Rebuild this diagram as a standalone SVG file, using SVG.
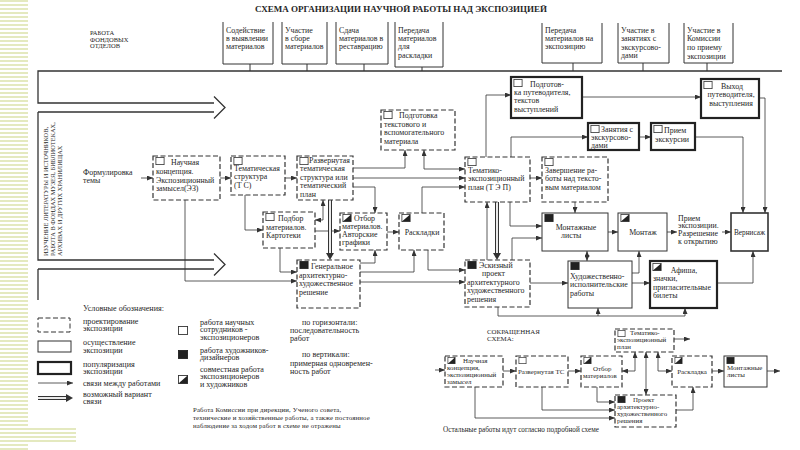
<svg xmlns="http://www.w3.org/2000/svg" width="800" height="450" viewBox="0 0 800 450">
<defs>
<style>
text{font-family:"Liberation Serif","DejaVu Serif",serif;font-size:7.9px;fill:#262626}
.s{font-size:6.9px}
.l{font-size:8.1px}
.fn{font-size:6.8px;letter-spacing:0.15px}
.c{text-anchor:middle}
.dash{fill:#fff;stroke:#333;stroke-width:1.2;stroke-dasharray:5 2.5}
.sol{fill:#fff;stroke:#333;stroke-width:1}
.thk{fill:#fff;stroke:#222;stroke-width:2.2}
.br{fill:none;stroke:#333;stroke-width:1}
.ln{fill:none;stroke:#333;stroke-width:0.8}
.a{marker-end:url(#ar)}
.ab{marker-end:url(#ar);marker-start:url(#ar)}
.band{fill:none;stroke:#333;stroke-width:1.3}
.dbo{fill:none;stroke:#333;stroke-width:4}
.dbi{fill:none;stroke:#fff;stroke-width:1.8}
.sqw{fill:#fff;stroke:#333;stroke-width:0.8}
.sqb{fill:#222;stroke:#222;stroke-width:0.8}
</style>
<marker id="ar" viewBox="0 0 6 5" refX="6" refY="2.5" markerWidth="6" markerHeight="5" markerUnits="userSpaceOnUse" orient="auto-start-reverse">
<path d="M0,0 L6,2.5 L0,5 z" fill="#333"/>
</marker>
<symbol id="sw" viewBox="0 0 9 8"><rect x="0.4" y="0.4" width="8.2" height="7.2" class="sqw"/></symbol>
<symbol id="sb" viewBox="0 0 9 8"><rect x="0.4" y="0.4" width="8.2" height="7.2" class="sqb"/></symbol>
<symbol id="sh" viewBox="0 0 9 8"><rect x="0.4" y="0.4" width="8.2" height="7.2" class="sqw"/><path d="M0.4,7.6 L8.6,0.4 L8.6,7.6 z" fill="#222"/></symbol>
<pattern id="stripes" width="28" height="4" patternUnits="userSpaceOnUse">
<rect width="28" height="2" fill="#e4e9bf"/>
</pattern>
</defs>
<rect width="800" height="450" fill="#fff"/>
<rect x="0" y="0" width="28" height="450" fill="url(#stripes)"/>
<rect x="0" y="428" width="76" height="14" fill="url(#stripes)"/>

<text x="401" y="12" class="c" style="font-size:9px;font-weight:bold">СХЕМА ОРГАНИЗАЦИИ НАУЧНОЙ РАБОТЫ НАД ЭКСПОЗИЦИЕЙ</text>
<g id="fond-label"><text x="90" y="35" style="font-size:6.5px">РАБОТА</text><text x="90" y="41.5" style="font-size:6.5px">ФОНДОВЫХ</text><text x="90" y="48" style="font-size:6.5px">ОТДЕЛОВ</text></g>

<g id="band">
<path class="band" d="M782,71 H38 V103 H214 M214,96.5 L225,107.5 L214,118.5 M38,112 H214 M38,112 V260 H214 M214,253.5 L225,264.5 L214,275.5 M38,269 H214 M38,269 V300"/>
<text transform="translate(47.5,256) rotate(-90)" style="font-size:6.4px">ИЗУЧЕНИЕ ЛИТЕРАТУРЫ И ИСТОЧНИКОВ,</text>
<text transform="translate(54.5,256) rotate(-90)" style="font-size:6.4px">РАБОТА В ФОНДАХ МУЗЕЯ, БИБЛИОТЕКАХ,</text>
<text transform="translate(61.5,256) rotate(-90)" style="font-size:6.4px">АРХИВАХ И ДРУГИХ ХРАНИЛИЩАХ</text>
</g>

<g id="top-1"><path class="br" d="M223,22 V64 H273 V22 M250,64 V71"/><text x="226" y="33">Содействие</text><text x="226" y="41">в выявлении</text><text x="226" y="49">материалов</text></g>
<g id="top-2"><path class="br" d="M282,22 V64 H327 V22 M307,64 V71"/><text x="285" y="33">Участие</text><text x="285" y="41">в сборе</text><text x="285" y="49">материалов</text></g>
<g id="top-3"><path class="br" d="M336,22 V64 H388 V22 M364,64 V71"/><text x="339" y="33">Сдача</text><text x="339" y="41">материалов в</text><text x="339" y="49">реставрацию</text></g>
<g id="top-4"><path class="br" d="M395,22 V67 H443 V22 M422,67 V71"/><text x="398" y="33">Передача</text><text x="398" y="41">материалов</text><text x="398" y="49">для</text><text x="398" y="57.5">раскладки</text></g>
<g id="top-5"><path class="br" d="M542,23 V63 H602 V23 M573,63 V71"/><text x="545" y="33">Передача</text><text x="545" y="41">материалов на</text><text x="545" y="49">экспозицию</text></g>
<g id="top-6"><path class="br" d="M618,23 V63 H669 V23 M643,63 V71"/><text x="621" y="33">Участие в</text><text x="621" y="41">занятиях с</text><text x="621" y="49.5">экскурсово-</text><text x="621" y="58">дами</text></g>
<g id="top-7"><path class="br" d="M684,23 V63 H733 V23 M707,63 V71"/><text x="687" y="33">Участие в</text><text x="687" y="41">Комиссии</text><text x="687" y="49.5">по приему</text><text x="687" y="58.5">экспозиции</text></g>

<g id="connectors">
<path class="ln a" d="M141,178 H153"/>
<path class="ln a" d="M220,178 H231"/>
<path class="ln a" d="M285,178 H297"/>
<path class="ln a" d="M353,168 H405 V150"/>
<path class="ln a" d="M353,178 H465"/>
<path class="ln a" d="M353,187 H375 V213"/>
<path class="ln ab" d="M424,150 V169 H465"/>
<path class="ln a" d="M422,213 V187 H465"/>
<path class="ln a" d="M245,195 V230 H263"/>
<path class="ln ab" d="M315,220 H323 V200"/>
<path class="ln a" d="M315,231 H340"/>
<path class="ln a" d="M387,232 H399"/>
<path class="ln a" d="M280,248 V272 H297"/>
<path class="ln a" d="M185,200 V281 H297"/>
<path class="ln a" d="M360,263 H375 V250"/>
<path class="ln a" d="M360,272 H414 V250"/>
<path class="ln a" d="M360,282 H465"/>
<path class="ln a" d="M428,250 V270 H465"/>
<path class="ln a" d="M486,157 V95 H511"/>
<path class="ln a" d="M511,157 V137 H588"/>
<path class="ln a" d="M530,178 H542"/>
<path class="ln a" d="M510,202 V226 H542"/>
<path class="ln a" d="M512,260 V238 H542"/>
<path class="ln a" d="M487,260 V202"/>
<path class="ln a" d="M575,202 V213"/>
<path class="ln a" d="M582,97 H701"/>
<path class="ln a" d="M639,137 H651"/>
<path class="ln a" d="M695,137 H743 V213"/>
<path class="ln a" d="M759,98 H765 V213"/>
<path class="ln a" d="M608,232 H618"/>
<path class="ln ab" d="M587,251 V261"/>
<path class="ln a" d="M667,232 H677"/>
<path class="ln a" d="M722,232 H731"/>
<path class="ln a" d="M530,283 H568"/>
<path class="ln a" d="M632,273 H639 V251"/>
<path class="ln a" d="M632,283 H650"/>
<path class="ln a" d="M717,283 H753 V251"/>
<path class="ln a" d="M498,307 V316 H685 V308"/>
<path class="ln a" d="M598,316 V308"/>
<path class="dbo" d="M330,200 V254"/><path class="dbi" d="M330,200 V254"/><path d="M326,253 L330,260 L334,253 z" fill="#333"/>
<path class="dbo" d="M497,202 V254"/><path class="dbi" d="M497,202 V254"/><path d="M493,253 L497,260 L501,253 z" fill="#333"/>
<path class="ln a" d="M435,370 H445"/>
<path class="ln a" d="M503,371 H516"/>
<path class="ln a" d="M568,371 H581"/>
<path class="ln a" d="M475,387 V418 H615"/>
<path class="ln a" d="M542,387 V410 H615"/>
<path class="ln a" d="M597,387 V402 H615"/>
<path class="ln ab" d="M622,371 H635 V352"/>
<path class="ln ab" d="M646,352 V395"/>
<path class="ln ab" d="M658,352 V371 H672"/>
<path class="ln a" d="M674,339 H690"/>
<path class="ln a" d="M676,410 H693 V387"/>
<path class="ln a" d="M712,371 H724"/>
<path class="ln a" d="M767,371 H780"/>
</g>

<g id="formul"><text x="83" y="175">Формулировка</text><text x="83" y="183">темы</text></g>
<g id="nauch"><rect x="153" y="156" width="67" height="44" class="dash"/><use href="#sw" x="155" y="157" width="10" height="8"/><text x="171" y="165">Научная</text><text x="156" y="174">концепция.</text><text x="156" y="182.5">Экспозиционный</text><text x="156" y="191">замысел(ЭЗ)</text></g>
<g id="ts"><rect x="231" y="156" width="54" height="39" class="dash"/><use href="#sw" x="233" y="157" width="10" height="8"/><text x="234" y="171">Тематическая</text><text x="234" y="179">структура</text><text x="234" y="187.5">(Т С)</text></g>
<g id="razv"><rect x="297" y="156" width="56" height="44" class="dash"/><use href="#sw" x="299" y="157" width="10" height="8"/><text x="309" y="163">Развернутая</text><text x="300" y="171">тематическая</text><text x="300" y="179.5">структура или</text><text x="300" y="188">тематический</text><text x="300" y="196.5">план</text></g>
<g id="podg-text"><rect x="381" y="110" width="74" height="40" class="dash"/><use href="#sw" x="383" y="111" width="10" height="8"/><text x="399" y="118">Подготовка</text><text x="384" y="126.5">текстового и</text><text x="384" y="135">вспомогательного</text><text x="384" y="143.5">материала</text></g>
<g id="tep"><rect x="465" y="157" width="65" height="45" class="dash"/><use href="#sw" x="467" y="158" width="10" height="8"/><text x="468" y="173">Тематико-</text><text x="468" y="181">экспозиционный</text><text x="468" y="189.5">план (Т Э П)</text></g>
<g id="zaversh"><rect x="542" y="157" width="66" height="45" class="dash"/><use href="#sw" x="544" y="158" width="10" height="8"/><text x="545" y="173">Завершение ра-</text><text x="545" y="181">боты над тексто-</text><text x="545" y="189.5">вым материалом</text></g>
<g id="podbor"><rect x="263" y="212" width="52" height="36" class="dash"/><use href="#sw" x="265" y="213" width="10" height="8"/><text x="278" y="221">Подбор</text><text x="266" y="229.5">материалов.</text><text x="266" y="238">Картотеки</text></g>
<g id="otbor"><rect x="340" y="213" width="47" height="37" class="dash"/><use href="#sh" x="342" y="214" width="10" height="8"/><text x="354" y="220.5">Отбор</text><text x="342" y="228.5">материалов.</text><text x="342" y="236.5">Авторские</text><text x="342" y="244.5">графики</text></g>
<g id="raskl"><rect x="399" y="213" width="45" height="37" class="dash"/><use href="#sh" x="401" y="214" width="10" height="8"/><text x="422" y="234.5" class="c">Раскладки</text></g>
<g id="gen"><rect x="297" y="260" width="63" height="48" class="dash"/><use href="#sb" x="299" y="261" width="10" height="8"/><text x="311" y="269">Генеральное</text><text x="299" y="277.5">архитектурно-</text><text x="299" y="286">художественное</text><text x="299" y="294.5">решение</text></g>
<g id="esk"><rect x="465" y="260" width="65" height="47" class="dash"/><use href="#sb" x="467" y="261" width="10" height="8"/><text x="479" y="268">Эскизный</text><text x="482" y="276">проект</text><text x="467" y="284.5">архитектурного</text><text x="467" y="293">художественного</text><text x="467" y="301.5">решения</text></g>
<g id="podg-put"><rect x="511" y="77" width="71" height="41" class="thk"/><use href="#sw" x="513" y="79" width="10" height="8"/><text x="530" y="86.5">Подготов-</text><text x="514" y="94.5">ка путеводителя,</text><text x="514" y="103">текстов</text><text x="514" y="111.5">выступлений</text></g>
<g id="vyhod"><rect x="701" y="79" width="58" height="39" class="thk"/><use href="#sw" x="703" y="81" width="10" height="8"/><text x="732" y="89" class="c">Выход</text><text x="731" y="97" class="c">путеводителя,</text><text x="731" y="105.5" class="c">выступления</text></g>
<g id="zanyat"><rect x="588" y="123" width="51" height="27" class="thk"/><use href="#sw" x="590" y="125" width="10" height="8"/><text x="601" y="131.5">Занятия с</text><text x="591" y="139.5">экскурсово-</text><text x="591" y="147.5">дами</text></g>
<g id="priem-ekskurs"><rect x="651" y="123" width="44" height="27" class="thk"/><use href="#sw" x="653" y="125" width="10" height="8"/><text x="664" y="133">Прием</text><text x="655" y="141.5">экскурсии</text></g>
<g id="montlist"><rect x="542" y="213" width="66" height="38" class="sol"/><use href="#sb" x="544" y="214" width="10" height="8"/><text x="576" y="229.5" class="c">Монтажные</text><text x="561" y="238">листы</text></g>
<g id="montazh"><rect x="618" y="213" width="49" height="38" class="sol"/><use href="#sh" x="620" y="214" width="10" height="8"/><text x="643" y="234.5" class="c">Монтаж</text></g>
<g id="priem-exp"><text x="678" y="220.5">Прием</text><text x="678" y="228">экспозиции.</text><text x="678" y="235.5">Разрешение</text><text x="678" y="243.5">к открытию</text></g>
<g id="vernis"><rect x="731" y="213" width="37" height="38" class="sol" style="stroke-width:1.6"/><text x="749.5" y="234.5" class="c" style="font-size:7.3px">Вернисаж</text></g>
<g id="hud"><rect x="568" y="261" width="64" height="47" class="sol"/><use href="#sb" x="570" y="262" width="10" height="8"/><text x="570" y="278.5">Художественно-</text><text x="570" y="287">исполнительские</text><text x="570" y="295.5">работы</text></g>
<g id="afisha"><rect x="650" y="261" width="67" height="47" class="thk"/><use href="#sh" x="652" y="263" width="10" height="8"/><text x="684" y="272.5" class="c">Афиша,</text><text x="653" y="281">значки,</text><text x="653" y="289.5">пригласительные</text><text x="653" y="298">билеты</text></g>

<g id="legend">
<text x="83" y="310.5" class="l">Условные обозначения:</text>
<rect x="38" y="318" width="32" height="14" class="dash" style="stroke-width:1"/>
<text x="83" y="323.5" class="l">проектирование</text><text x="83" y="331" class="l">экспозиции</text>
<rect x="38" y="341" width="33" height="11" class="sol"/>
<text x="83" y="345" class="l">осуществление</text><text x="83" y="352.5" class="l">экспозиции</text>
<rect x="38" y="362" width="33" height="12" class="thk"/>
<text x="83" y="366.5" class="l">популяризация</text><text x="83" y="374" class="l">экспозиции</text>
<path class="ln a" d="M38,383 H73"/>
<text x="83" y="386" class="l">связи между работами</text>
<path class="dbo" d="M38,398 H67"/><path class="dbi" d="M38,398 H67"/><path d="M66,394 L73,398 L66,402 z" fill="#333"/>
<text x="83" y="396.5" class="l">возможный вариант</text><text x="83" y="404" class="l">связи</text>
<use href="#sw" x="178" y="326" width="10" height="9"/>
<use href="#sb" x="178" y="350" width="10" height="9"/>
<use href="#sh" x="178" y="375" width="10" height="9"/>
<text x="200" y="324.5" class="l">работа научных</text><text x="200" y="332" class="l">сотрудников -</text><text x="200" y="339.5" class="l">экспозиционеров</text>
<text x="200" y="352.5" class="l">работа художников-</text><text x="200" y="360" class="l">дизайнеров</text>
<text x="200" y="371.5" class="l">совместная работа</text><text x="200" y="379" class="l">экспозиционеров</text><text x="200" y="386.5" class="l">и художников</text>
<text x="302" y="324.5" class="l">по горизонтали:</text><text x="290" y="333" class="l">последовательность</text><text x="290" y="341" class="l">работ</text>
<text x="302" y="357" class="l">по вертикали:</text><text x="290" y="365.5" class="l">примерная одновремен-</text><text x="290" y="374" class="l">ность работ</text>
<text x="193" y="411.5" class="fn">Работа Комиссии при дирекции, Ученого совета,</text>
<text x="193" y="419.5" class="fn">технические и хозяйственные работы, а также постоянное</text>
<text x="193" y="427.5" class="fn">наблюдение за ходом работ в схеме не отражены</text>
</g>

<g id="short-title"><text x="487" y="333.5" class="s">СОКРАЩЕННАЯ</text><text x="487" y="340.5" class="s">СХЕМА:</text></g>
<g id="s-nauch"><rect x="445" y="356" width="58" height="31" class="dash"/><use href="#sh" x="447" y="357" width="9" height="7"/><text x="463" y="363" class="s">Научная</text><text x="447" y="369.5" class="s">концепция,</text><text x="447" y="376.5" class="s">экспозиционный</text><text x="447" y="383.5" class="s">замысел</text></g>
<g id="s-razv"><rect x="516" y="356" width="52" height="31" class="dash"/><use href="#sw" x="518" y="357" width="9" height="7"/><text x="518" y="373.5" class="s">Развернутая ТС</text></g>
<g id="s-otbor"><rect x="581" y="356" width="41" height="31" class="dash"/><use href="#sh" x="583" y="357" width="9" height="7"/><text x="593" y="370.5" class="s">Отбор</text><text x="583" y="377.5" class="s">материалов</text></g>
<g id="s-tep"><rect x="615" y="329" width="59" height="23" class="dash"/><use href="#sw" x="617" y="330" width="9" height="7"/><text x="630" y="335" class="s">Тематико-</text><text x="617" y="342" class="s">экспозиционный</text><text x="617" y="349" class="s">план</text></g>
<g id="s-raskl"><rect x="672" y="356" width="40" height="31" class="dash"/><use href="#sh" x="674" y="357" width="9" height="7"/><text x="692" y="373.5" class="s c">Раскладка</text></g>
<g id="s-mont"><rect x="724" y="356" width="43" height="31" class="sol"/><use href="#sb" x="726" y="357" width="9" height="7"/><text x="727" y="369.5" class="s">Монтажные</text><text x="727" y="376.5" class="s">листы</text></g>
<g id="s-proekt"><rect x="615" y="395" width="61" height="32" class="dash"/><use href="#sb" x="617" y="396" width="9" height="7"/><text x="633" y="402" class="s">Проект</text><text x="617" y="409" class="s">архитектурно-</text><text x="617" y="416" class="s">художественного</text><text x="617" y="423" class="s">решения</text></g>
<text x="443" y="431.5" style="font-size:7.2px">Остальные работы идут согласно подробной схеме</text>
</svg>
